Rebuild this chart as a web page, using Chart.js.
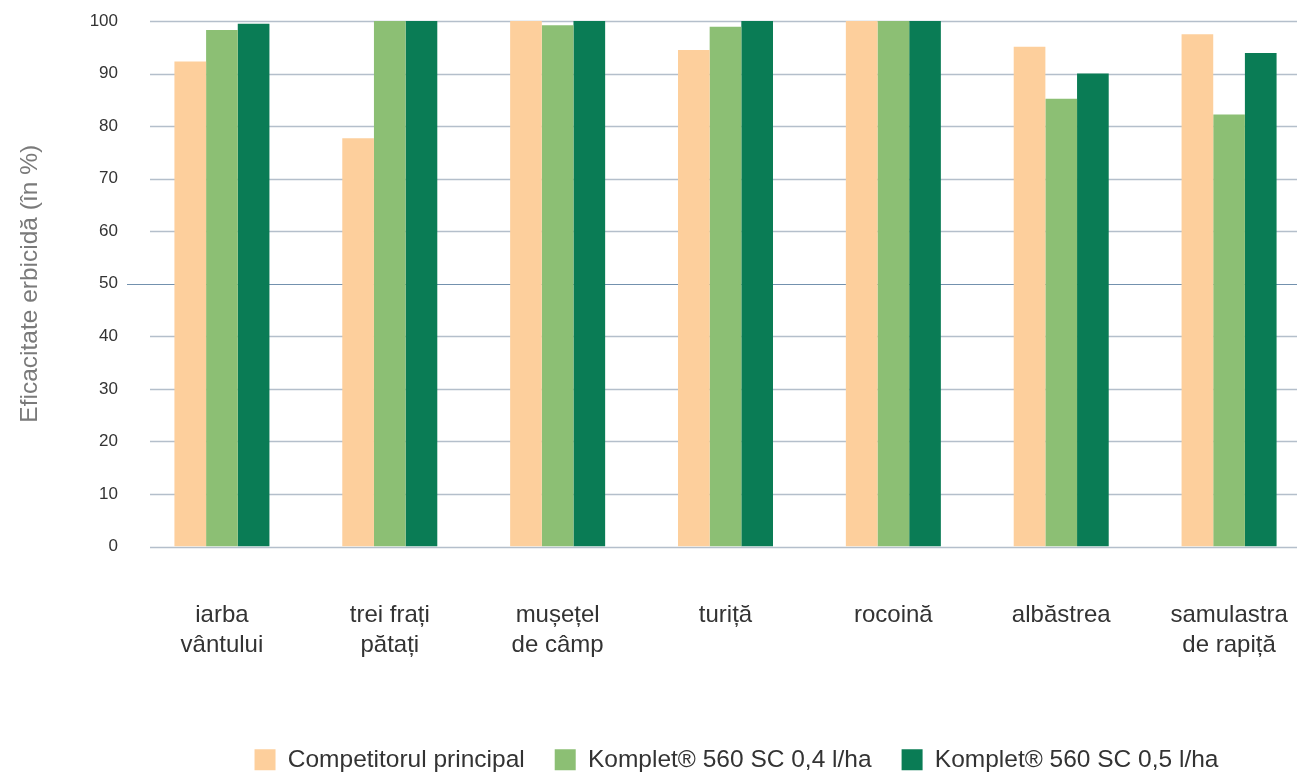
<!DOCTYPE html>
<html><head><meta charset="utf-8">
<script src="https://cdn.jsdelivr.net/npm/chart.js@4"></script>
<style>html,body{margin:0;padding:0;background:#fff}#wrap{width:1314px;height:772px}</style>
</head><body><div id="wrap"><canvas id="c" width="1314" height="772"></canvas></div>
<script>
const categories = [["iarba","vântului"],["trei frați","pătați"],["mușețel","de câmp"],["turiță"],["rocoină"],["albăstrea"],["samulastra","de rapiță"]];
const seriesNames = ["Competitorul principal","Komplet® 560 SC 0,4 l/ha","Komplet® 560 SC 0,5 l/ha"];
const competitor = [92.3, 77.7, 100, 94.5, 100, 95.1, 97.5];
const komplet04 = [98.3, 100, 99.2, 98.9, 100, 85.2, 82.2];
const komplet05 = [99.5, 100, 100, 100, 100, 90, 93.9];
const yTickValues = [0,10,20,30,40,50,60,70,80,90,100];
const seriesColors = ["#FDCF9C","#8CBF74","#0A7C55"];
const FONT = "'Liberation Sans', Arial, Helvetica, sans-serif";

const gridPlugin = {
  id: 'customGrid',
  beforeDatasetsDraw(chart) {
    const y = chart.scales.y, area = chart.chartArea, ctx = chart.ctx;
    ctx.save();
    yTickValues.forEach(v => {
      const py = Math.round(y.getPixelForValue(v)) + 0.5;
      const major = v === 50;
      ctx.strokeStyle = major ? '#7391ae' : '#b4bfcb';
      ctx.lineWidth = major ? 1.2 : 1.5;
      ctx.beginPath();
      ctx.moveTo(area.left + (major ? -11 : 12), py);
      ctx.lineTo(area.right - 16, py);
      ctx.stroke();
    });
    ctx.restore();
  }
};
const legendShift = {
  id: 'legendShift',
  afterLayout(chart) {
    const dx = 80, dy = 10;
    chart.legend.left += dx;
    chart.legend.right += dx;
    chart.legend.top += dy;
    chart.legend.bottom += dy;
  }
};

new Chart(document.getElementById('c'), {
  type: 'bar',
  data: {
    labels: categories,
    datasets: [
      {label: seriesNames[0], data: competitor, backgroundColor: seriesColors[0]},
      {label: seriesNames[1], data: komplet04, backgroundColor: seriesColors[1]},
      {label: seriesNames[2], data: komplet05, backgroundColor: seriesColors[2]}
    ]
  },
  options: {
    responsive: false,
    animation: false,
    devicePixelRatio: 1,
    layout: {padding: {top: 21, right: 1, bottom: 0, left: 0}},
    datasets: {bar: {categoryPercentage: 0.566, barPercentage: 1.0}},
    plugins: {
      tooltip: {enabled: false},
      legend: {
        position: 'bottom',
        labels: {
          boxWidth: 21, boxHeight: 21, padding: 30,
          color: '#333', font: {family: FONT, size: 24.5}
        }
      }
    },
    scales: {
      y: {
        min: 0, max: 100,
        afterFit(s) { s.width = 138; s.paddingTop = 0; s.paddingBottom = 0; },
        afterBuildTicks(s) { s.ticks = yTickValues.map(v => ({value: v})); },
        grid: {display: false, drawTicks: false},
        border: {display: false},
        ticks: {color: '#333', padding: 20, font: {family: FONT, size: 17}},
        title: {display: true, text: 'Eficacitate erbicidă (în %)', color: '#7a7a7a',
                padding: {top: 16, bottom: 4}, font: {family: FONT, size: 24.5}}
      },
      x: {
        afterFit(s) { s.height = 161; s.paddingLeft = 0; s.paddingRight = 0; },
        grid: {display: false, drawTicks: false},
        border: {display: false},
        ticks: {color: '#333', padding: 54, maxRotation: 0, autoSkip: false,
                font: {family: FONT, size: 24, lineHeight: 1.25}}
      }
    }
  },
  plugins: [gridPlugin, legendShift]
});
</script></body></html>
